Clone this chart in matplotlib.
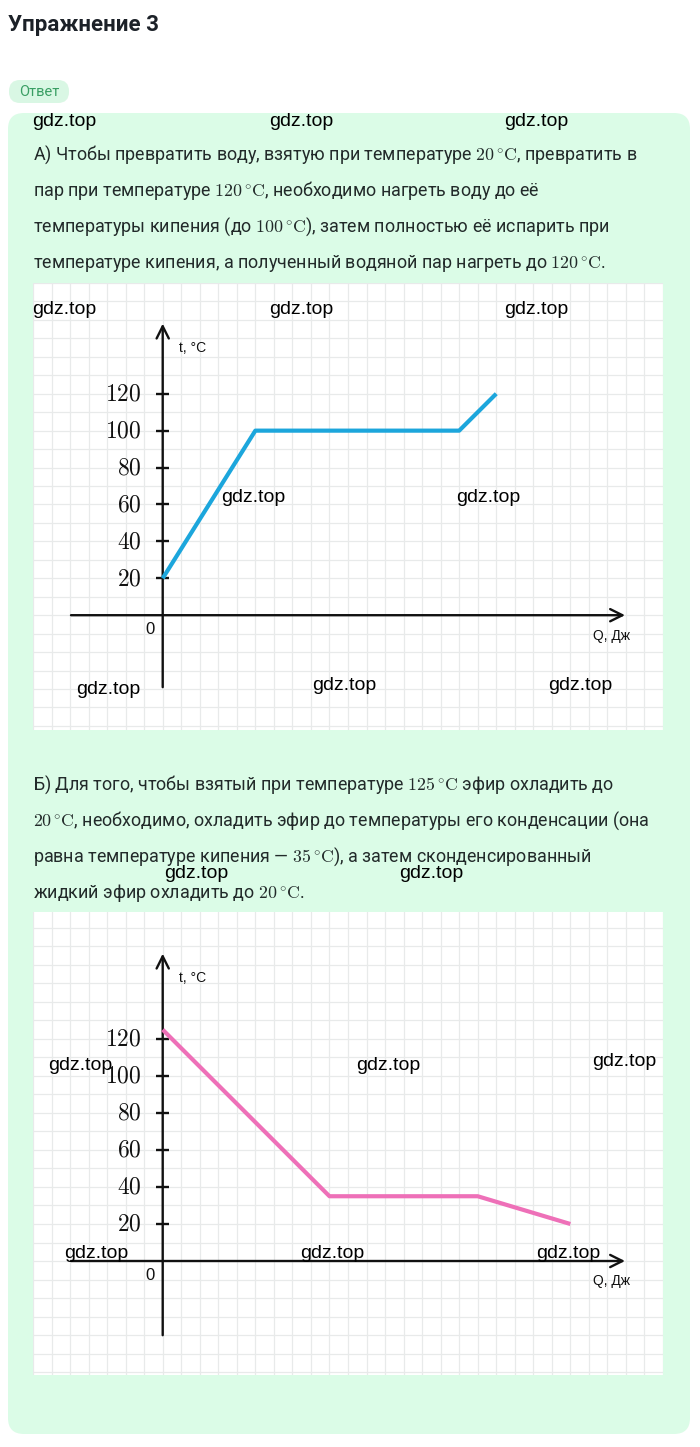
import numpy as np
import matplotlib.pyplot as plt
from matplotlib.patches import FancyBboxPatch

plt.rcParams['mathtext.fontset'] = 'cm'

# --- данные ---
title = "Упражнение 3"
answer_label = "Ответ"

text_a = [
    r"А) Чтобы превратить воду, взятую при температуре $20^\circ\!\mathrm{C}$, превратить в",
    r"пар при температуре $120^\circ\!\mathrm{C}$, необходимо нагреть воду до её",
    r"температуры кипения (до $100^\circ\!\mathrm{C}$), затем полностью её испарить при",
    r"температуре кипения, а полученный водяной пар нагреть до $120^\circ\!\mathrm{C}$.",
]
text_b = [
    r"Б) Для того, чтобы взятый при температуре $125^\circ\!\mathrm{C}$ эфир охладить до",
    r"$20^\circ\!\mathrm{C}$, необходимо, охладить эфир до температуры его конденсации (она",
    r"равна температуре кипения — $35^\circ\!\mathrm{C}$), а затем сконденсированный",
    r"жидкий эфир охладить до $20^\circ\!\mathrm{C}$.",
]

# график А: нагрев воды (Q в клетках сетки)
q_water = [0, 5, 16, 18]
t_water = [20, 100, 100, 120]
# график Б: охлаждение эфира
q_ether = [0, 9, 17, 22]
t_ether = [125, 35, 35, 20]

y_ticks = [20, 40, 60, 80, 100, 120]

W, H = 700, 1447
fig = plt.figure(figsize=(W / 100, H / 100), dpi=100)
fig.patch.set_facecolor('white')

# фон в пикселях
bg = fig.add_axes([0, 0, 1, 1], zorder=0)
bg.set_xlim(0, W)
bg.set_ylim(H, 0)
bg.axis('off')

bg.text(8, 25, title, fontsize=16, fontweight='bold', family='Roboto',
        color='#1c2128', va='center', ha='left')
bg.add_patch(FancyBboxPatch((9, 80), 60, 23, boxstyle="round,pad=0,rounding_size=11",
                            fc='#d9f7e4', ec='none'))
bg.text(39, 91.5, answer_label, fontsize=10.5, family='Roboto', color='#3a9e64',
        ha='center', va='center')
bg.add_patch(FancyBboxPatch((8, 113), 682, 1321, boxstyle="round,pad=0,rounding_size=16",
                            fc='#dbfce7', ec='none'))

for i, line in enumerate(text_a):
    bg.text(33, 155 + i * 36, line, fontsize=12.9, family='Roboto', color='#222a2a',
            ha='left', va='center')
for i, line in enumerate(text_b):
    bg.text(33, 785 + i * 36, line, fontsize=12.9, family='Roboto', color='#222a2a',
            ha='left', va='center')


def px_axes(x0, y0, x1, y1):
    return fig.add_axes([x0 / W, 1 - y1 / H, (x1 - x0) / W, (y1 - y0) / H], zorder=1)


def draw_graph(ax, q, t, color, ytop, ybot, yarrow, ylow):
    ax.set_facecolor('white')
    ax.set_xlim(-7, 27)
    ax.set_ylim(ybot, ytop)
    ax.set_xticks(np.arange(-7, 28, 1))
    ax.set_yticks(np.arange(-60, 190, 10))
    ax.tick_params(length=0, labelbottom=False, labelleft=False)
    ax.grid(True, color='#e8eaea', lw=0.9)
    for s in ax.spines.values():
        s.set_visible(False)
    # оси
    ax.annotate('', xy=(25.1, 0), xytext=(-5.1, 0),
                arrowprops=dict(arrowstyle='->', lw=1.7, color='#111111', mutation_scale=22))
    ax.annotate('', xy=(0, yarrow), xytext=(0, ylow),
                arrowprops=dict(arrowstyle='->', lw=1.7, color='#111111', mutation_scale=22))
    ax.hlines(y_ticks, -0.35, 0.35, color='#111111', lw=1.7)
    for v in y_ticks:
        ax.text(-1.15, v, '$%d$' % v, fontsize=17, ha='right', va='center', color='#111111')
    ax.text(-0.7, -8, '0', fontsize=12, ha='center', va='center', color='#111111',
            family='Liberation Sans')
    ax.text(24.2, -11, 'Q, Дж', fontsize=10, ha='center', va='center', color='#111111',
            family='Liberation Sans')
    ax.text(1.6, yarrow - 14.5, 't, °C', fontsize=10, ha='center', va='center',
            color='#111111', family='Liberation Sans')
    ax.plot(q, t, color=color, lw=3, solid_capstyle='butt', zorder=3)


ax1 = px_axes(33, 283, 663, 730)
draw_graph(ax1, q_water, t_water, '#1ca6dc', 179.5, -62.2, 159.5, -40.5)

ax2 = px_axes(33, 912, 663, 1375)
draw_graph(ax2, q_ether, t_ether, '#ee70b8', 188.6, -61.6, 167.6, -41.6)

# водяные знаки
marks = [(64, 122), (301, 122), (536, 122), (64, 309), (301, 309), (536, 309),
         (253, 497), (488, 497), (108, 689), (344, 685), (580, 685),
         (196, 874), (431, 874), (80, 1066), (388, 1065), (624, 1061),
         (96, 1253), (332, 1253), (568, 1253)]
ov = fig.add_axes([0, 0, 1, 1], zorder=5)
ov.set_xlim(0, W)
ov.set_ylim(H, 0)
ov.axis('off')
for x, y in marks:
    ov.text(x, y, 'gdz.top', fontsize=14, family='Liberation Sans', color='black',
            ha='center', va='center')

fig.savefig('out.png', dpi=100)
